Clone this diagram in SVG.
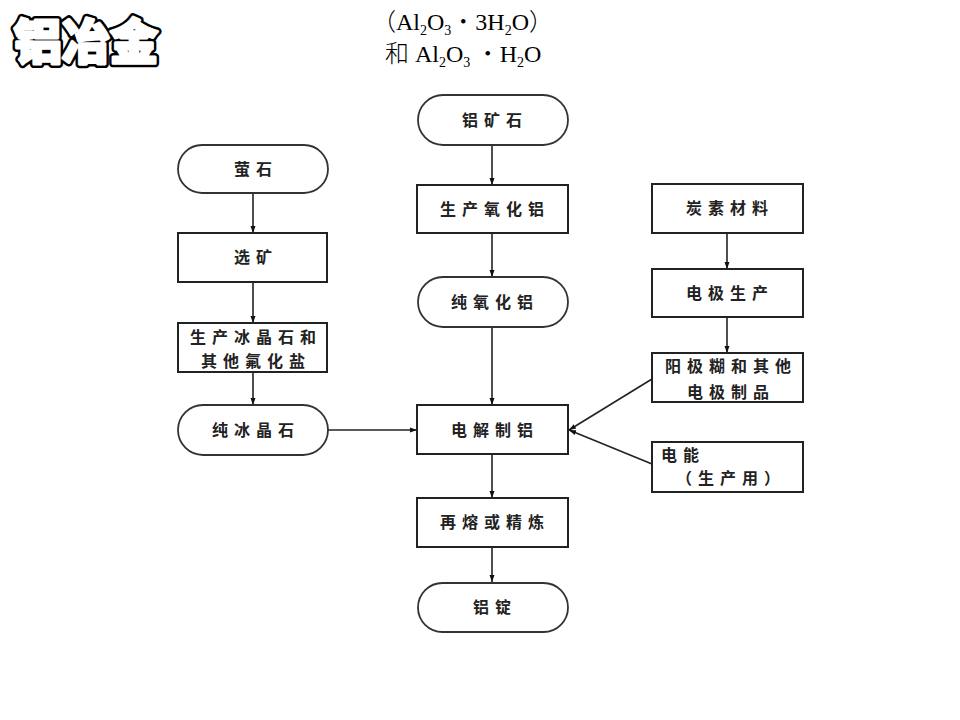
<svg xmlns="http://www.w3.org/2000/svg" width="960" height="720" viewBox="0 0 960 720">
<defs>
<marker id="ah" markerUnits="userSpaceOnUse" markerWidth="8" markerHeight="8" refX="7" refY="4" orient="auto">
<path d="M0,1.5 L7,4 L0,6.5 z" fill="#111"/>
</marker>
<style>
.box{fill:#fff;stroke:#222;stroke-width:2}
.term{fill:#fff;stroke:#333;stroke-width:1.8}
.lbl{font-family:"Noto Sans CJK SC","Noto Sans CJK TC",sans-serif;font-size:16px;font-weight:700;fill:#222;letter-spacing:6px}
.conn line{stroke:#222;stroke-width:1.6;marker-end:url(#ah)}
.hdr{font-family:"Liberation Serif","Noto Sans CJK SC",serif;font-size:24px;fill:#000}
.cjk{font-family:"Noto Sans CJK SC",sans-serif;font-weight:300}
.sub{font-size:14px}
.t1{font-family:"Noto Sans CJK SC",sans-serif;font-size:48px;font-weight:900;fill:#000;stroke:#000;stroke-width:8;stroke-linejoin:round;stroke-linecap:round}
.t2{font-family:"Noto Sans CJK SC",sans-serif;font-size:48px;font-weight:900;fill:#fff;stroke:#fff;stroke-width:3;stroke-linejoin:round;stroke-linecap:round}
</style>
</defs>
<rect width="960" height="720" fill="#fff"/>

<g id="title">
<text class="t1" x="14" y="59">铝冶金</text>
<text class="t2" x="14" y="59">铝冶金</text>
</g>

<text class="hdr" x="372" y="30"><tspan class="cjk">（</tspan>Al<tspan class="sub" dy="5">2</tspan><tspan dy="-5">O</tspan><tspan class="sub" dy="5">3</tspan><tspan class="cjk" dy="-5">・</tspan>3H<tspan class="sub" dy="5">2</tspan><tspan dy="-5">O</tspan><tspan class="cjk">）</tspan></text>
<text class="hdr" x="385" y="62"><tspan class="cjk">和</tspan> Al<tspan class="sub" dy="5">2</tspan><tspan dy="-5">O</tspan><tspan class="sub" dy="5">3</tspan><tspan class="cjk" dy="-5"> ・</tspan>H<tspan class="sub" dy="5">2</tspan><tspan dy="-5">O</tspan></text>

<g id="conn" class="conn">
<line x1="253" y1="193" x2="253" y2="233"/>
<line x1="253" y1="282" x2="253" y2="323"/>
<line x1="253" y1="372" x2="253" y2="405"/>
<line x1="328" y1="430" x2="417" y2="430"/>
<line x1="492" y1="145" x2="492" y2="185"/>
<line x1="492" y1="233" x2="492" y2="277"/>
<line x1="492" y1="327" x2="492" y2="405"/>
<line x1="492" y1="454" x2="492" y2="498"/>
<line x1="492" y1="547" x2="492" y2="582"/>
<line x1="727" y1="233" x2="727" y2="269"/>
<line x1="727" y1="317" x2="727" y2="353"/>
<line x1="652" y1="379" x2="569" y2="430"/>
<line x1="652" y1="464" x2="569" y2="430"/>
</g>

<g id="yingshi"><rect class="term" x="178" y="145" width="150" height="48" rx="24"/><text class="lbl" x="256" y="175" text-anchor="middle">萤石</text></g>
<g id="xuankuang"><rect class="box" x="178" y="233" width="149" height="49"/><text class="lbl" x="256" y="263" text-anchor="middle">选矿</text></g>
<g id="bingjingshi"><rect class="box" x="178" y="323" width="149" height="49"/><text class="lbl" x="256" y="343" text-anchor="middle">生产冰晶石和</text><text class="lbl" x="256" y="367" text-anchor="middle">其他氟化盐</text></g>
<g id="chunbingjingshi"><rect class="term" x="178" y="405" width="150" height="50" rx="25"/><text class="lbl" x="256" y="436" text-anchor="middle">纯冰晶石</text></g>

<g id="lvkuangshi"><rect class="term" x="418" y="95" width="150" height="50" rx="25"/><text class="lbl" x="495" y="126" text-anchor="middle">铝矿石</text></g>
<g id="yanghualv"><rect class="box" x="417" y="185" width="151" height="48"/><text class="lbl" x="495" y="215" text-anchor="middle">生产氧化铝</text></g>
<g id="chunyanghualv"><rect class="term" x="418" y="277" width="150" height="50" rx="25"/><text class="lbl" x="495" y="308" text-anchor="middle">纯氧化铝</text></g>
<g id="dianjie"><rect class="box" x="417" y="405" width="151" height="49"/><text class="lbl" x="495" y="436" text-anchor="middle">电解制铝</text></g>
<g id="zairong"><rect class="box" x="417" y="498" width="151" height="49"/><text class="lbl" x="495" y="528" text-anchor="middle">再熔或精炼</text></g>
<g id="lvding"><rect class="term" x="418" y="583" width="150" height="49" rx="24.5"/><text class="lbl" x="495" y="613" text-anchor="middle">铝锭</text></g>

<g id="tansu"><rect class="box" x="652" y="184" width="151" height="49"/><text class="lbl" x="730" y="214" text-anchor="middle">炭素材料</text></g>
<g id="dianji"><rect class="box" x="652" y="269" width="151" height="48"/><text class="lbl" x="730" y="299" text-anchor="middle">电极生产</text></g>
<g id="yangji"><rect class="box" x="652" y="353" width="151" height="49"/><text class="lbl" x="731" y="372" text-anchor="middle">阳极糊和其他</text><text class="lbl" x="731" y="398" text-anchor="middle">电极制品</text></g>
<g id="dianneng"><rect class="box" x="652" y="442" width="151" height="50"/><text class="lbl" x="661" y="461">电能</text><text class="lbl" x="676" y="484">（生产用）</text></g>
</svg>
